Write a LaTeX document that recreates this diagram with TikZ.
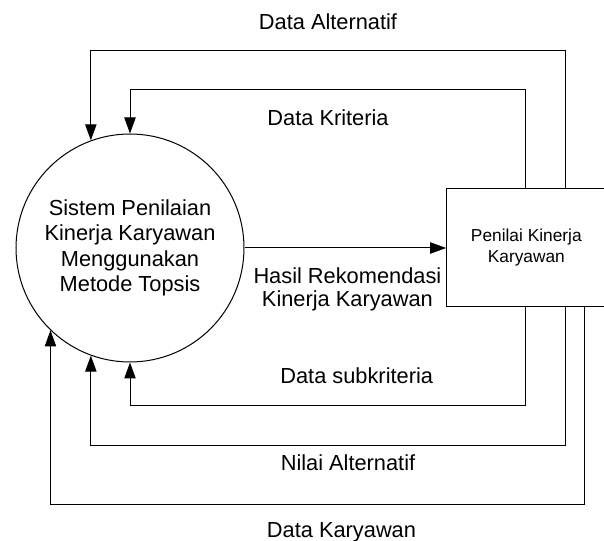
\documentclass[tikz,border=0pt]{standalone}
\usepackage{fontspec}
\setmainfont{Liberation Sans}
\usetikzlibrary{arrows.meta}
\begin{document}
\begin{tikzpicture}[x=0.75pt,y=-0.75pt,
  flow/.style={draw=black,line width=0.75pt},
  arr/.style={flow,-{Triangle[length=12pt,width=8.5pt]}},
  lbl/.style={font=\fontsize{16.35}{17.6}\selectfont,inner sep=0pt,align=center},
  procnode/.style={circle,draw=black,line width=0.75pt,minimum size=171pt,inner sep=0pt,align=center,
    font=\fontsize{16.35}{19}\selectfont},
  entnode/.style={rectangle,draw=black,line width=0.75pt,minimum width=119.5pt,minimum height=88pt,
    inner sep=0pt,align=center,font=\fontsize{13}{15.75}\selectfont}]
\useasboundingbox (0,0) rectangle (604,541);
\node[procnode] (sys) at (130,248) {Sistem Penilaian\\Kinerja Karyawan\\Menggunakan\\Metode Topsis};
\node[entnode] (box) at (526.35,247.35) {Penilai Kinerja\\Karyawan};
% bend points
\coordinate (a1) at (565,50.7);
\coordinate (a2) at (525.7,89.7);
\coordinate (b1) at (525.7,405.7);
\coordinate (b2) at (565,445.7);
\coordinate (b3) at (584.7,504.3);
% connectors
\draw[arr] (box.north -| a1) -- (a1) -| (sys.110);
\draw[arr] (box.north -| a2) -- (a2) -| (sys.north);
\draw[arr] (sys.east) -- (sys.east -| box.west);
\draw[arr] (box.south -| b1) -- (b1) -| (sys.south);
\draw[arr] (box.south -| b2) -- (b2) -| (sys.250);
\draw[arr] (box.south -| b3) -- (b3) -| (sys.226.6);
% labels
\node[lbl,anchor=base] (lalt) at (328,29.5) {Data Alternatif};
\node[lbl,anchor=base] (lkri) at (328,126) {Data Kriteria};
\node[lbl] (lhas) at (347.4,289.3) {Hasil Rekomendasi\\Kinerja Karyawan};
\node[lbl,anchor=base] (lsub) at (356.7,383.8) {Data subkriteria};
\node[lbl,anchor=base] (lnil) at (348,471) {Nilai Alternatif};
\node[lbl,anchor=base] (lkar) at (341.5,537.5) {Data Karyawan};
\end{tikzpicture}
\end{document}
